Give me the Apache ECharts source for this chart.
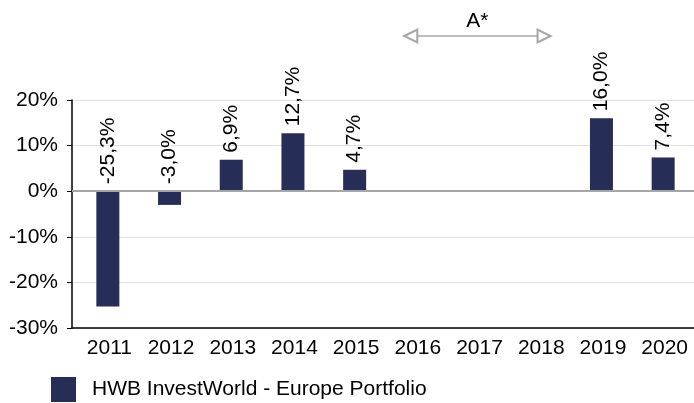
<!DOCTYPE html>
<html>
<head>
<meta charset="utf-8">
<script src="https://cdn.jsdelivr.net/npm/echarts@6/dist/echarts.min.js"></script>
<style>
  html, body { margin: 0; padding: 0; background: #fff; }
  #chart { width: 694px; height: 403px; }
</style>
</head>
<body>
<div id="chart"></div>
<script>
// data
const years = ['2011', '2012', '2013', '2014', '2015', '2016', '2017', '2018', '2019', '2020'];
const returns = [-25.3, -3.0, 6.9, 12.7, 4.7, null, null, null, 16.0, 7.4];
const seriesName = 'HWB InvestWorld - Europe Portfolio';
// annotation "A*" spans roughly 2016 .. 2018 (category index)
const noteText = 'A*';
const noteFrom = 4.91;
const noteTo = 7.07;

const font = "'Liberation Sans', Arial, sans-serif";
const barColor = '#262d57';
const fs = 21;
const yMin = -30, yMax = 20;

const chart = echarts.init(document.getElementById('chart'));

const option = {
  animation: false,
  textStyle: { fontFamily: font },
  grid: [
    // frame: y axis, x axis line + ticks, gridlines
    { left: 72, top: 100, width: 622, height: 228 },
    // bars + year labels (band starts a bit right of the y axis, like the original)
    { left: 77, top: 100, width: 617, height: 228 },
    // annotation arrow above the plot
    { left: 77, top: 0, width: 617, height: 100 }
  ],
  legend: {
    data: [seriesName],
    left: 51,
    top: 377,
    padding: 0,
    icon: 'rect',
    itemWidth: 25,
    itemHeight: 25,
    textStyle: { fontSize: fs, color: '#000', fontFamily: font, padding: [3, 0, 0, 11] }
  },
  xAxis: [
    {
      type: 'category',
      gridIndex: 0,
      data: years,
      axisLine: { onZero: false, lineStyle: { color: '#000', width: 1.5 } },
      axisTick: { alignWithLabel: true, length: 6, lineStyle: { color: '#000' } },
      axisLabel: { show: false }
    },
    {
      type: 'category',
      gridIndex: 1,
      data: years,
      axisLine: { show: false },
      axisTick: { show: false },
      axisLabel: { fontSize: fs, color: '#000', margin: 10, fontFamily: font, padding: [0, 0, 0, 3] }
    },
    { type: 'value', gridIndex: 2, min: -0.5, max: 9.5, show: false }
  ],
  yAxis: [
    {
      type: 'value',
      gridIndex: 0,
      min: yMin,
      max: yMax,
      interval: 10,
      axisLine: { show: true, lineStyle: { color: '#000', width: 1.5 } },
      axisTick: { show: true, length: 5, lineStyle: { color: '#000' } },
      axisLabel: { fontSize: fs, color: '#000', margin: 14, formatter: '{value}%', fontFamily: font },
      splitLine: { lineStyle: { color: '#e0e0e0', width: 1 } }
    },
    { type: 'value', gridIndex: 1, min: yMin, max: yMax, interval: 10, show: false },
    { type: 'value', gridIndex: 2, min: 0, max: 1, show: false }
  ],
  series: [
    {
      // zero line across the whole plot
      type: 'line',
      xAxisIndex: 0,
      yAxisIndex: 0,
      data: [],
      markLine: {
        silent: true,
        symbol: 'none',
        label: { show: false },
        lineStyle: { color: '#a6a6a6', width: 2, type: 'solid' },
        data: [{ yAxis: 0 }]
      }
    },
    {
      name: seriesName,
      type: 'bar',
      xAxisIndex: 1,
      yAxisIndex: 1,
      data: returns,
      barWidth: 23,
      itemStyle: { color: barColor },
      label: {
        show: true,
        position: 'top',
        rotate: 90,
        align: 'left',
        verticalAlign: 'middle',
        distance: 7,
        fontSize: fs,
        color: '#000',
        fontFamily: font,
        formatter: p => p.value.toFixed(1).replace('.', ',') + '%'
      }
    },
    {
      type: 'line',
      xAxisIndex: 2,
      yAxisIndex: 2,
      data: [],
      markLine: {
        silent: true,
        symbol: ['emptyTriangle', 'emptyTriangle'],
        symbolSize: 13,
        lineStyle: { color: '#a6a6a6', width: 1.5, type: 'solid' },
        label: {
          show: true,
          position: 'middle',
          formatter: noteText,
          fontSize: fs,
          color: '#000',
          distance: 4,
          fontFamily: font
        },
        data: [[{ coord: [noteFrom, 0.64] }, { coord: [noteTo, 0.64] }]]
      }
    }
  ]
};

chart.setOption(option);
</script>
</body>
</html>
